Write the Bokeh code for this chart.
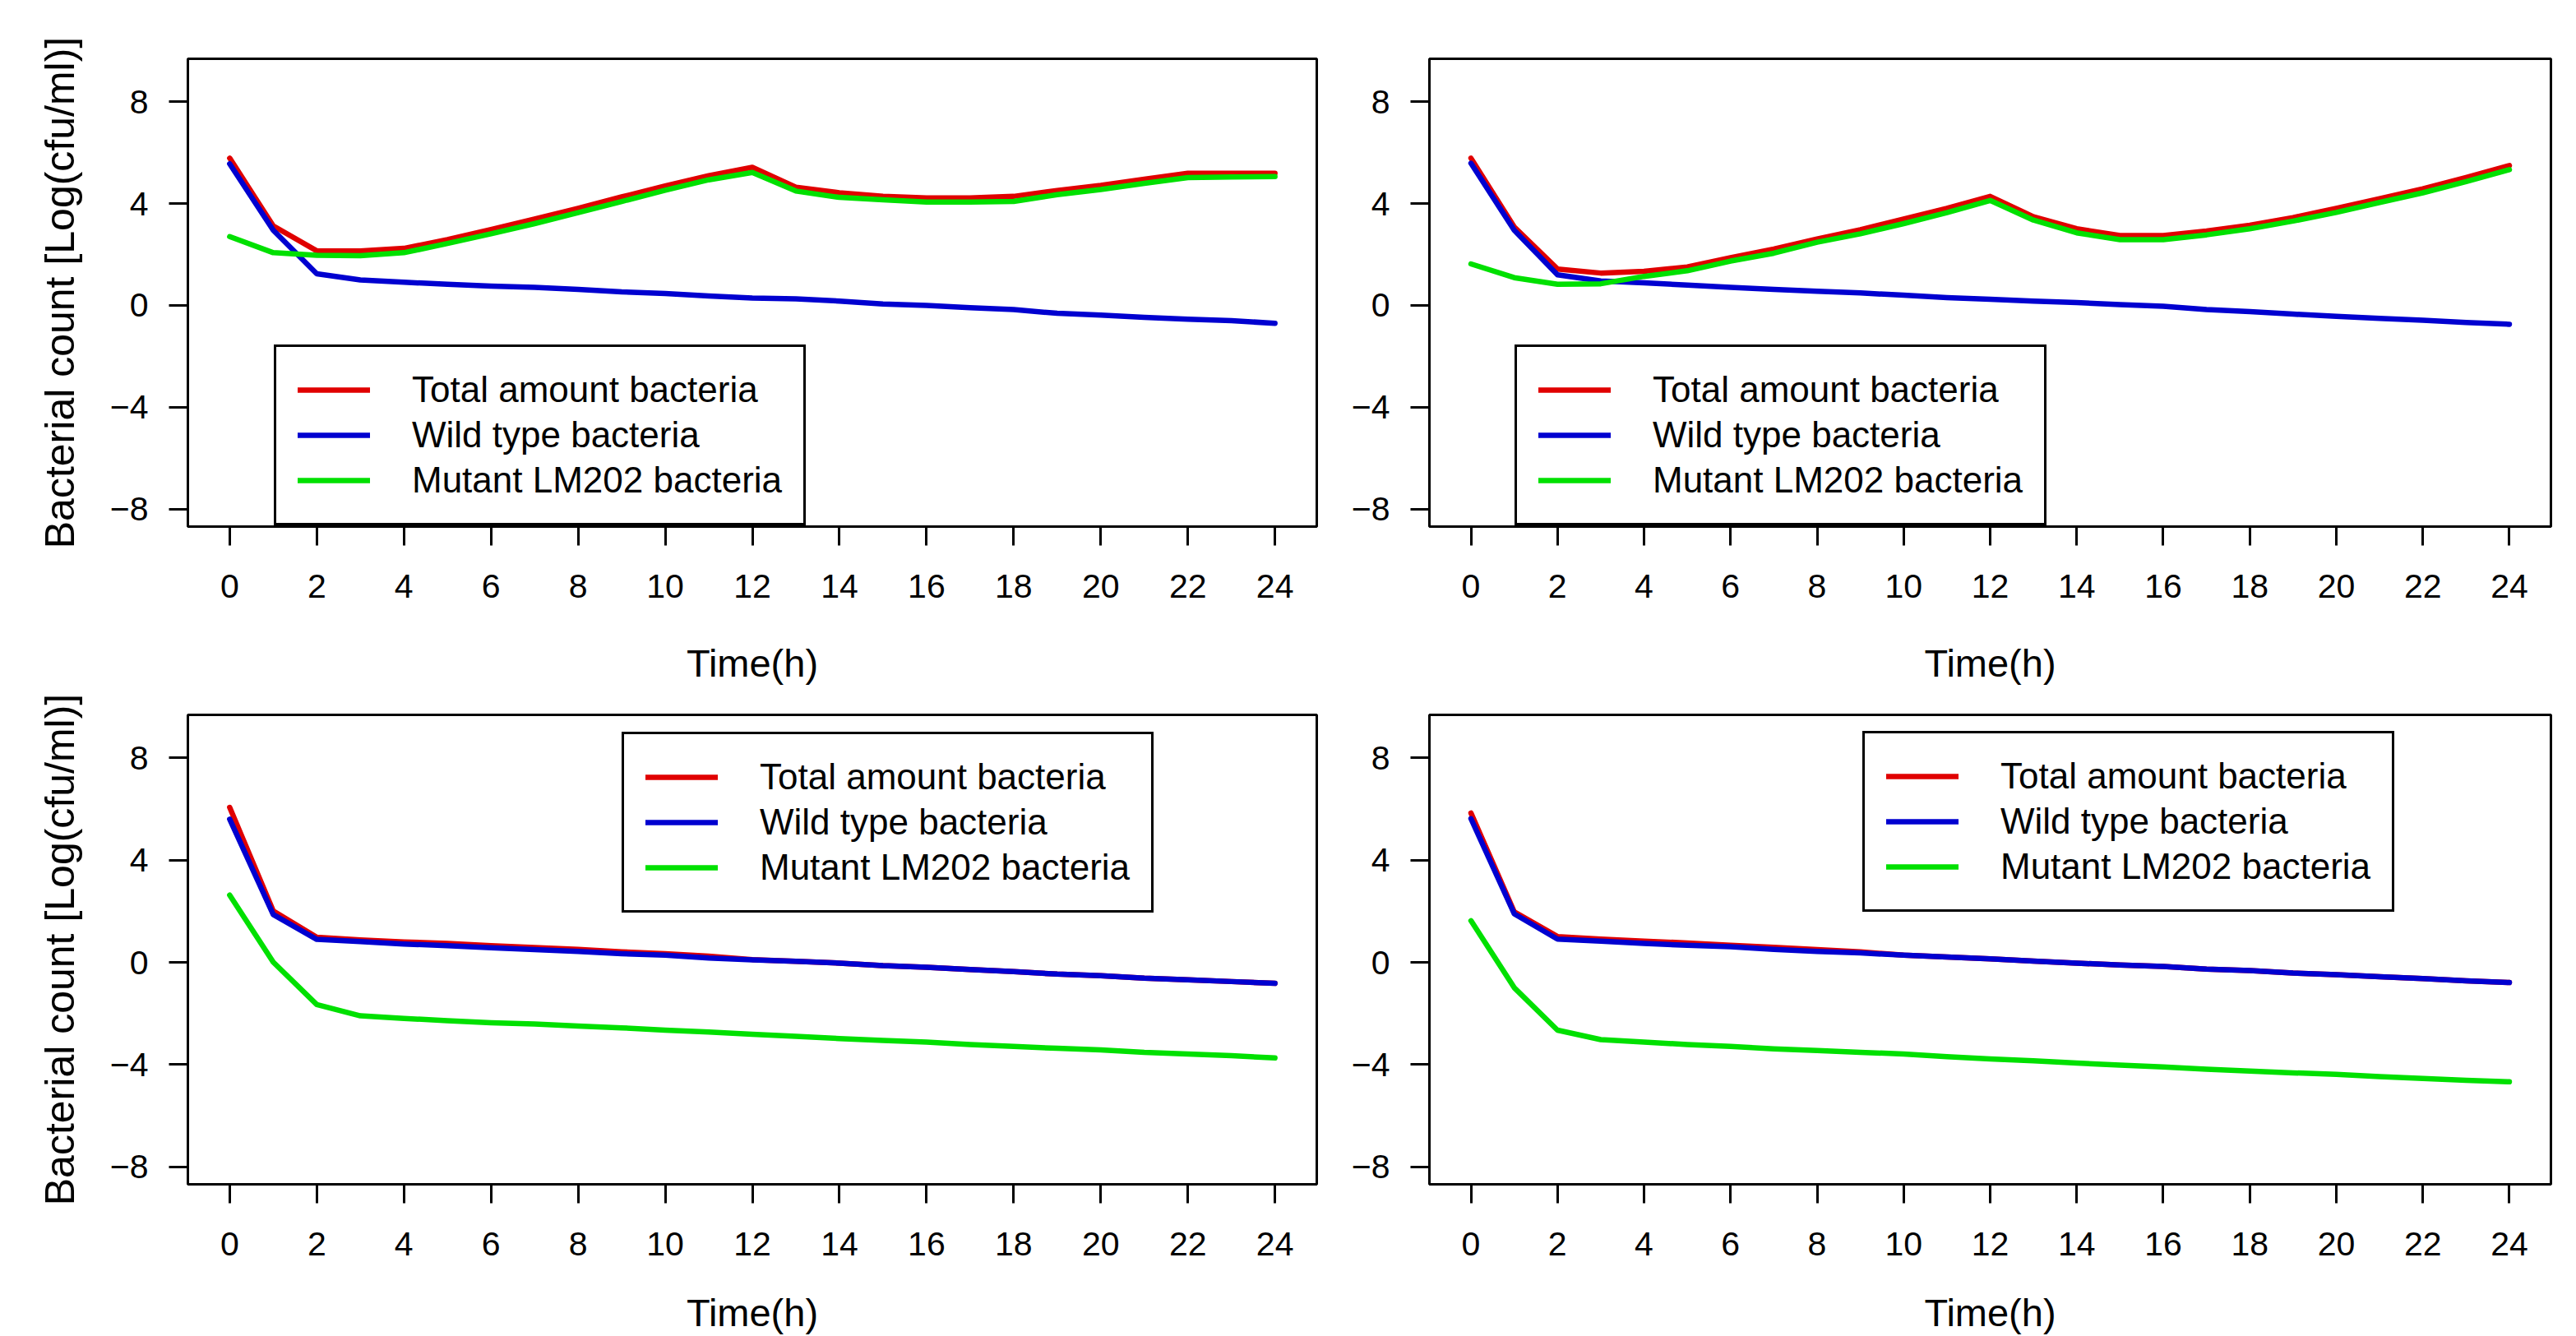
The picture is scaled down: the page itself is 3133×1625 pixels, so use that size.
from bokeh.plotting import figure
from bokeh.models import Range1d, FixedTicker, Legend, LegendItem
from bokeh.layouts import row, column
from bokeh.embed import file_html
from bokeh.resources import INLINE

# ---------------- data ----------------
time_h = list(range(25))
x_ticks = list(range(0, 25, 2))
y_ticks = [-8, -4, 0, 4, 8]
series_names = ["Total amount bacteria", "Wild type bacteria", "Mutant LM202 bacteria"]

total_a = [5.78, 3.12, 2.14, 2.14, 2.24, 2.58, 2.98, 3.39, 3.81, 4.26, 4.69, 5.09, 5.42,
           4.64, 4.42, 4.28, 4.22, 4.22, 4.28, 4.51, 4.71, 4.95, 5.19, 5.19, 5.19]
wild_a = [5.56, 2.95, 1.24, 1.00, 0.91, 0.83, 0.76, 0.71, 0.63, 0.53, 0.47, 0.37, 0.29,
          0.26, 0.17, 0.06, 0.00, -0.09, -0.16, -0.31, -0.38, -0.47, -0.54, -0.60, -0.70]
mutant_a = [2.70, 2.07, 1.97, 1.95, 2.07, 2.43, 2.81, 3.21, 3.64, 4.08, 4.52, 4.93, 5.22,
            4.49, 4.24, 4.15, 4.06, 4.06, 4.08, 4.35, 4.55, 4.79, 5.02, 5.04, 5.06]

total_b = [5.78, 3.08, 1.43, 1.27, 1.34, 1.51, 1.87, 2.21, 2.61, 2.97, 3.39, 3.81, 4.28,
           3.48, 3.01, 2.74, 2.74, 2.92, 3.15, 3.45, 3.81, 4.19, 4.58, 5.02, 5.49]
wild_b = [5.58, 2.95, 1.20, 0.96, 0.89, 0.80, 0.71, 0.63, 0.56, 0.49, 0.40, 0.31, 0.24,
          0.17, 0.11, 0.03, -0.03, -0.16, -0.24, -0.34, -0.43, -0.51, -0.58, -0.67, -0.74]
mutant_b = [1.63, 1.09, 0.83, 0.85, 1.14, 1.36, 1.74, 2.05, 2.48, 2.81, 3.21, 3.64, 4.12,
            3.35, 2.85, 2.58, 2.58, 2.77, 3.01, 3.31, 3.65, 4.04, 4.42, 4.86, 5.33]

total_c = [6.06, 2.01, 0.98, 0.88, 0.80, 0.74, 0.65, 0.58, 0.51, 0.41, 0.34, 0.24, 0.11,
           0.04, -0.03, -0.13, -0.19, -0.28, -0.36, -0.46, -0.52, -0.62, -0.68, -0.75, -0.82]
wild_c = [5.60, 1.87, 0.90, 0.81, 0.72, 0.65, 0.57, 0.50, 0.43, 0.34, 0.28, 0.17, 0.10,
          0.04, -0.03, -0.13, -0.19, -0.28, -0.36, -0.46, -0.52, -0.62, -0.68, -0.75, -0.82]
mutant_c = [2.63, 0.01, -1.65, -2.09, -2.19, -2.28, -2.36, -2.41, -2.49, -2.56, -2.65, -2.72, -2.81,
            -2.89, -2.98, -3.05, -3.12, -3.21, -3.29, -3.36, -3.42, -3.52, -3.58, -3.65, -3.74]

total_d = [5.84, 1.98, 1.01, 0.91, 0.83, 0.76, 0.67, 0.59, 0.50, 0.41, 0.28, 0.21, 0.14,
           0.05, -0.03, -0.10, -0.16, -0.26, -0.32, -0.42, -0.48, -0.56, -0.63, -0.72, -0.79]
wild_d = [5.62, 1.90, 0.91, 0.83, 0.74, 0.67, 0.61, 0.51, 0.43, 0.37, 0.28, 0.21, 0.14,
          0.05, -0.03, -0.10, -0.16, -0.26, -0.32, -0.42, -0.48, -0.56, -0.63, -0.72, -0.79]
mutant_d = [1.63, -0.99, -2.65, -3.02, -3.12, -3.21, -3.29, -3.38, -3.45, -3.52, -3.58, -3.69, -3.78,
            -3.85, -3.94, -4.02, -4.09, -4.18, -4.25, -4.32, -4.38, -4.47, -4.54, -4.61, -4.67]

# ---------------- style ----------------
FONT = "Liberation Sans"
COLORS = ["#e00000", "#0000d0", "#00e000"]
LW = 6.5


def make_panel(width, height, bl, br, bt, bb, series, show_ylabel, leg_xy, xlabel_standoff):
    p = figure(width=width, height=height, output_backend="svg", toolbar_location=None,
               x_range=Range1d(-0.96, 24.96), y_range=Range1d(-8.68, 9.68),
               min_border_left=bl, min_border_right=br, min_border_top=bt, min_border_bottom=bb)
    p.xgrid.visible = False
    p.ygrid.visible = False
    p.outline_line_color = "black"
    p.outline_line_width = 3
    p.outline_line_alpha = 1
    p.background_fill_color = "white"
    p.border_fill_color = "white"

    renderers = []
    for ys, col in zip(series, COLORS):
        r = p.line(time_h, ys, line_color=col, line_width=LW, line_cap="round", line_join="round")
        renderers.append(r)

    for ax in (p.xaxis[0], p.yaxis[0]):
        ax.axis_line_color = None
        ax.major_tick_in = 0
        ax.major_tick_out = 23
        ax.major_tick_line_width = 3
        ax.major_tick_line_color = "black"
        ax.minor_tick_line_color = None
        ax.major_label_text_font = FONT
        ax.major_label_text_font_size = "41px"
        ax.major_label_text_color = "black"
        ax.major_label_standoff = 25
        ax.axis_label_text_font = FONT
        ax.axis_label_text_font_style = "normal"
        ax.axis_label_text_color = "black"
    p.xaxis[0].ticker = FixedTicker(ticks=x_ticks)
    p.yaxis[0].ticker = FixedTicker(ticks=y_ticks)
    p.xaxis[0].major_label_standoff = 35
    p.xaxis[0].axis_label = "Time(h)"
    p.xaxis[0].axis_label_text_font_size = "47px"
    p.xaxis[0].axis_label_standoff = xlabel_standoff
    if show_ylabel:
        p.yaxis[0].axis_label = "Bacterial count [Log(cfu/ml)]"
        p.yaxis[0].axis_label_text_font_size = "50px"
        p.yaxis[0].axis_label_standoff = 30

    legend = Legend(items=[LegendItem(label=n, renderers=[r]) for n, r in zip(series_names, renderers)],
                    location=leg_xy, orientation="vertical",
                    label_text_font=FONT, label_text_font_size="44px", label_text_color="black",
                    glyph_width=88, glyph_height=52, label_height=52, label_standoff=51,
                    spacing=3, padding=26, margin=0,
                    border_line_color="black", border_line_width=3, border_line_alpha=1,
                    background_fill_color="white", background_fill_alpha=1)
    p.add_layout(legend, "center")
    return p


pa = make_panel(1640, 840, 228, 39, 71, 200, [total_a, wild_a, mutant_a], True, (105, 1), 50)
pb = make_panel(1493, 840, 91, 31, 71, 200, [total_b, wild_b, mutant_b], False, (104, 1), 50)
pc = make_panel(1640, 785, 228, 39, 29, 184, [total_c, wild_c, mutant_c], True, (528, 330), 40)
pd = make_panel(1493, 785, 91, 31, 29, 184, [total_d, wild_d, mutant_d], False, (527, 331), 40)

layout = column(row(pa, pb, spacing=0), row(pc, pd, spacing=0), spacing=0)

open("out.html", "w").write(file_html(layout, INLINE))
